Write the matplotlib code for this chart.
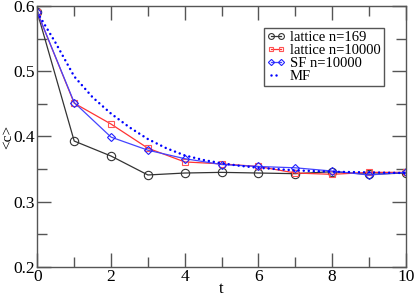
import numpy as np
import matplotlib
matplotlib.use("Agg")
import matplotlib.pyplot as plt
from matplotlib.ticker import MultipleLocator

plt.rcParams['font.family'] = ['Liberation Serif', 'DejaVu Serif']

# data
t = [0, 1, 2, 3, 4, 5, 6, 7, 8, 9, 10]
lattice_169 = [0.590, 0.393, 0.370, 0.341, 0.344, 0.345, 0.344, 0.343, 0.346, 0.342, 0.344]
lattice_10000 = [0.590, 0.451, 0.419, 0.382, 0.361, 0.358, 0.354, 0.344, 0.342, 0.345, 0.345]
sf_10000 = [0.590, 0.452, 0.399, 0.379, 0.366, 0.357, 0.354, 0.352, 0.347, 0.341, 0.345]

t_mf = [0, 0.5, 1, 1.5, 2, 2.5, 3, 3.5, 4, 4.5, 5, 5.5, 6, 7, 8, 9, 10]
mf = [0.590, 0.543, 0.492, 0.460, 0.435, 0.414, 0.396, 0.382, 0.371, 0.364, 0.359,
      0.355, 0.352, 0.348, 0.346, 0.345, 0.344]

fig = plt.figure(figsize=(4.15, 2.97), dpi=100)
ax = fig.add_axes([0.090, 0.101, 0.888, 0.879])

ax.plot(t, lattice_169, color='#333333', lw=0.9, marker='o', ms=6,
        mfc='none', mec='#333333', mew=0.8, label='lattice n=169')
ax.plot(t, lattice_10000, color='#ff3333', lw=0.9, marker='s', ms=5,
        mfc='none', mec='#ff5555', mew=0.8, label='lattice n=10000')
ax.plot(t, sf_10000, color='#4444ff', lw=0.9, marker='D', ms=4.5,
        mfc='none', mec='#2222ff', mew=0.8, label='SF n=10000')
ax.plot(t_mf, mf, color='#0000ff', lw=1.8, ls=(0, (0.01, 2.0)),
        dash_capstyle='round', label='MF')

ax.set_xlim(0, 10)
ax.set_ylim(0.2, 0.6)
ax.xaxis.set_major_locator(MultipleLocator(2))
ax.xaxis.set_minor_locator(MultipleLocator(1))
ax.yaxis.set_major_locator(MultipleLocator(0.1))
ax.yaxis.set_minor_locator(MultipleLocator(0.05))
ax.set_yticks([0.2, 0.3, 0.4, 0.5, 0.6])
ax.set_yticklabels(['0.2', '0.3', '0.4', '0.5', '0.6'])

ax.tick_params(which='both', direction='in', top=True, right=True,
               color='#555555', width=1.0, labelsize=12.5, pad=1.5)
ax.tick_params(which='major', length=10)
ax.tick_params(which='minor', length=7.5)
for s in ax.spines.values():
    s.set_color('#555555')
    s.set_linewidth(1.0)

ax.set_xlabel('t', fontsize=12, labelpad=-3)
ax.set_ylabel('<c>', fontsize=11)
ax.yaxis.set_label_coords(-0.062, 0.5)

leg = ax.legend(loc='upper right', bbox_to_anchor=(0.940, 0.917),
                borderaxespad=0, fontsize=10.5, numpoints=2, markerscale=0.7,
                handlelength=1.3, handletextpad=0.3, labelspacing=0.0,
                borderpad=0.2, fancybox=False, framealpha=1)
leg.get_frame().set_edgecolor('#555555')
leg.get_frame().set_linewidth(1.0)

fig.savefig('out.png', dpi=100)
